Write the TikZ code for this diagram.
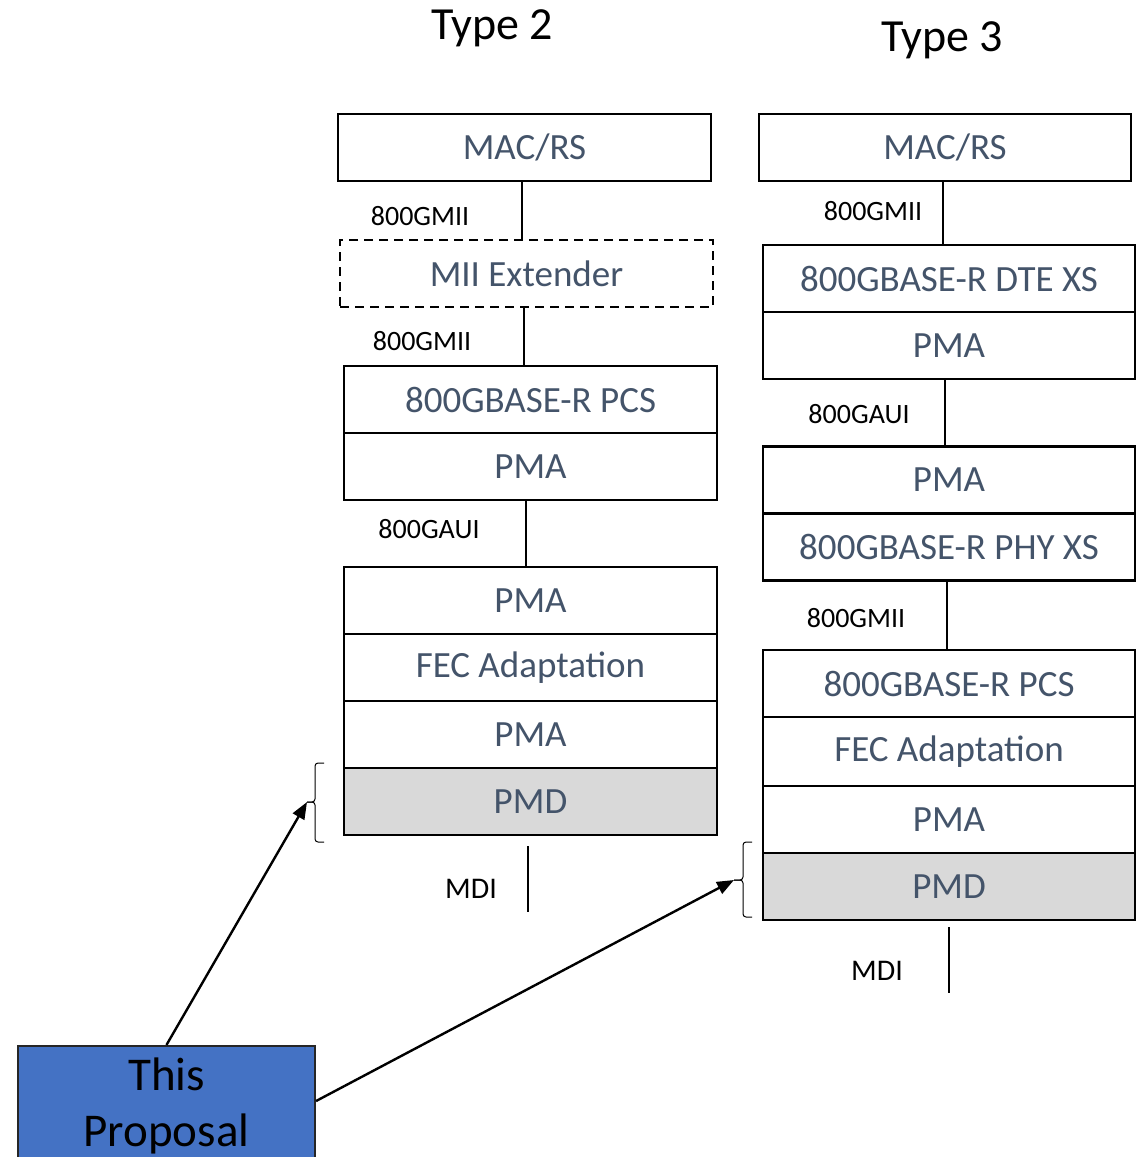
\documentclass[tikz,border=0pt]{standalone}
\usepackage{fontspec}
\setmainfont{Carlito}
\usetikzlibrary{arrows.meta}
\definecolor{lbl}{HTML}{44546A}
\definecolor{pmdgray}{HTML}{D9D9D9}
\definecolor{propblue}{HTML}{4472C4}
\begin{document}
\begin{tikzpicture}[x=1pt,y=-1pt,
  layer/.style={draw=black, line width=2.2pt, fill=white, minimum width=372pt,
    minimum height=67pt, inner sep=0pt, text=lbl,
    font=\fontsize{37}{40}\selectfont},
  pmdlayer/.style={layer, fill=pmdgray},
  optlayer/.style={layer, dash pattern=on 9pt off 6pt},
  iface/.style={font=\fontsize{28}{30}\selectfont, text=black, inner sep=0pt},
  mdilabel/.style={font=\fontsize{30}{32}\selectfont, text=black, inner sep=0pt},
  title/.style={font=\fontsize{46}{50}\selectfont, inner sep=0pt},
  link/.style={line width=1.3pt},
  pointer/.style={line width=2.4pt, -{Triangle[length=17pt,width=13pt]}},
  bracket/.style={line width=1pt, rounded corners=3pt},
  proposal/.style={draw=black!85, line width=2.2pt, fill=propblue,
    minimum width=297pt, minimum height=120pt, inner sep=0pt, align=center,
    font=\fontsize{47}{56}\selectfont}
]
\clip (0,0) rectangle (1145,1157);

% column titles
\node[title] (t2) at (492,28) {Type 2};
\node[title] (t3) at (942,40) {Type 3};

% ---------- Type 2 stack ----------
\node[layer, minimum width=373pt] (mac2) at (524.5,147.5) {MAC/RS};
\node[optlayer, minimum width=373pt] (mii) at (526.5,273.5) {MII Extender};
\node[layer, minimum width=373pt] (pcs2) at (530.5,399.5) {800GBASE-R PCS};
\node[layer, minimum width=373pt] (pmaA2) at (530.5,466.5) {PMA};
\node[layer, minimum width=373pt] (pmaB2) at (530.5,600.5) {PMA};
\node[layer, minimum width=373pt] (fec2) at (530.5,667.5) {FEC Adaptation};
\node[layer, minimum width=373pt] (pmaC2) at (530.5,734.5) {PMA};
\node[pmdlayer, minimum width=373pt] (pmd2) at (530.5,801.5) {PMD};

\draw[link] (mac2.south -| 522,0) -- (mii.north -| 522,0);
\draw[link] (mii.south -| 524,0) -- (pcs2.north -| 524,0);
\draw[link] (pmaA2.south -| 526,0) -- (pmaB2.north -| 526,0);
\coordinate (mdi2a) at (528,846);
\coordinate (mdi2b) at (528,912);
\draw[link] (mdi2a) -- (mdi2b);

\node[iface] (l2a) at (420,216) {800GMII};
\node[iface] (l2b) at (422,341) {800GMII};
\node[iface] (l2c) at (429,529) {800GAUI};
\node[mdilabel] (l2d) at (471,889) {MDI};

% ---------- Type 3 stack ----------
\node[layer] (mac3) at (945,147.5) {MAC/RS};
\node[layer] (dte) at (949,278.5) {800GBASE-R DTE XS};
\node[layer] (pmaA3) at (949,345.5) {PMA};
\node[layer] (pmaB3) at (949,480) {PMA};
\node[layer] (phy) at (949,547) {800GBASE-R PHY XS};
\node[layer] (pcs3) at (949,683.5) {800GBASE-R PCS};
\node[layer, minimum height=69pt] (fec3) at (949,751.5) {FEC Adaptation};
\node[layer] (pmaC3) at (949,819.5) {PMA};
\node[pmdlayer] (pmd3) at (949,886.5) {PMD};

\draw[link] (mac3.south -| 943,0) -- (dte.north -| 943,0);
\draw[link] (pmaA3.south -| 945,0) -- (pmaB3.north -| 945,0);
\draw[link] (phy.south -| 947,0) -- (pcs3.north -| 947,0);
\coordinate (mdi3a) at (949,927);
\coordinate (mdi3b) at (949,993);
\draw[link] (mdi3a) -- (mdi3b);

\node[iface] (l3a) at (873,211) {800GMII};
\node[iface] (l3b) at (859,414) {800GAUI};
\node[iface] (l3c) at (856,618) {800GMII};
\node[mdilabel] (l3d) at (877,971) {MDI};

% ---------- brackets marking the PMD ----------
\coordinate (tip2) at (307,802);
\coordinate (tip3) at (734,880);
\draw[bracket] (324,763) -- (315,763) -- (315,802) -- (tip2);
\draw[bracket] (tip2) -- (315,802) -- (315,842) -- (324,842);
\draw[bracket] (752,842) -- (743,842) -- (743,880) -- (tip3);
\draw[bracket] (tip3) -- (743,880) -- (743,917) -- (752,917);

% ---------- proposal box and pointers ----------
\node[proposal] (prop) at (166.5,1106) {This\\Proposal};
\draw[pointer] (prop.north) -- (tip2);
\draw[pointer] ([yshift=5pt]prop.east) -- (tip3);
\end{tikzpicture}
\end{document}
